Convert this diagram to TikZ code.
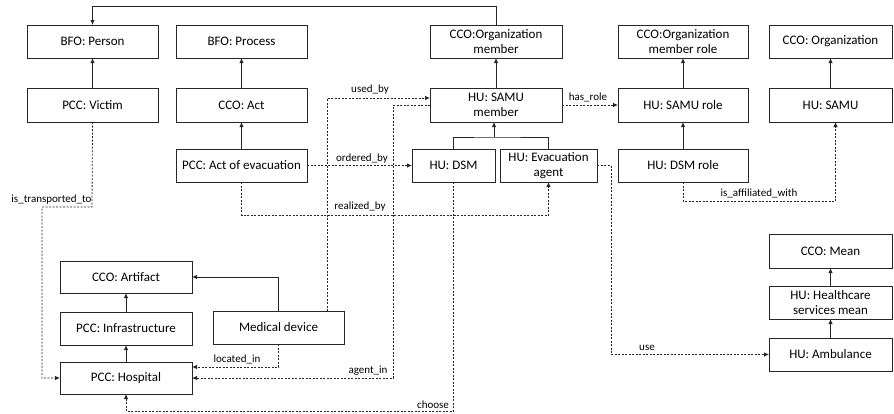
\documentclass[tikz,border=0pt]{standalone}
\usepackage{fontspec}
\setmainfont{Carlito}
\usetikzlibrary{arrows.meta}
\definecolor{ln}{HTML}{262626}
\tikzset{
  box/.style={draw=ln, line width=0.9pt, rectangle, inner sep=1pt, outer sep=0pt, align=center, font=\fontsize{13}{15.5}\selectfont, text=black},
  isa/.style={draw=ln, line width=0.9pt, -{Latex[length=5pt,width=4.5pt]}},
  dep/.style={draw=ln, line width=0.8pt, dash pattern=on 2pt off 1.5pt, -{Latex[length=5pt,width=4.5pt]}},
  lbl/.style={font=\fontsize{11}{12}\selectfont, inner sep=0pt, text=black},
}
\newcommand{\bx}[7]{\node[box, minimum width=#4pt, minimum height=#5pt] (#1) at (#2,#3) {#6};}
\begin{document}
\begin{tikzpicture}[x=1pt,y=-1pt]
\useasboundingbox (0,0) rectangle (894,413);
% row 1
\bx{person}{92.5}{41.5}{131}{33}{BFO: Person}{}
\bx{process}{241.5}{41.5}{131}{33}{BFO: Process}{}
\bx{orgmember}{496}{41.5}{132}{33}{CCO:Organization\\member}{}
\bx{orgmemberrole}{683}{41.5}{130}{33}{CCO:Organization\\member role}{}
\bx{org}{830.5}{41.5}{123}{33}{CCO: Organization}{}
% row 2
\bx{victim}{92.5}{105}{131}{34}{PCC: Victim}{}
\bx{act}{241.5}{105}{131}{34}{CCO: Act}{}
\bx{samumember}{496}{105}{132}{34}{HU: SAMU\\member}{}
\bx{samurole}{683}{105}{130}{34}{HU: SAMU role}{}
\bx{samu}{830.5}{105}{123}{34}{HU: SAMU}{}
% row 3
\bx{actevac}{241.5}{165.5}{131}{33}{PCC: Act of evacuation}{}
\bx{dsm}{453.5}{165.5}{83}{33}{HU: DSM}{}
\bx{evac}{548.5}{165.5}{97}{33}{HU: Evacuation\\agent}{}
\bx{dsmrole}{683}{165.5}{130}{33}{HU: DSM role}{}
% lower left
\bx{artifact}{126}{277}{132}{32}{CCO: Artifact}{}
\bx{infra}{126}{328.5}{132}{33}{PCC: Infrastructure}{}
\bx{hospital}{126}{378}{132}{32}{PCC: Hospital}{}
\bx{meddev}{278.5}{327.5}{131}{33}{Medical device}{}
% lower right
\bx{mean}{830.5}{251}{123}{34}{CCO: Mean}{}
\bx{healthcare}{830.5}{302.5}{123}{33}{HU: Healthcare\\services mean}{}
\bx{ambulance}{830.5}{354.5}{123}{33}{HU: Ambulance}{}

% is-a links
\draw[isa] (victim) -- (person);
\draw[isa] (act) -- (process);
\draw[isa] (actevac) -- (act);
\draw[isa] (samumember) -- (orgmember);
\draw[isa] (samurole) -- (orgmemberrole);
\draw[isa] (dsmrole) -- (samurole);
\draw[isa] (samu) -- (org);
\draw[isa] (healthcare) -- (mean);
\draw[isa] (ambulance) -- (healthcare);
\draw[isa] (infra) -- (artifact);
\draw[isa] (hospital) -- (infra);
\draw[isa] (meddev.north) |- (artifact.east);
\draw[isa] (orgmember.north) -- ++(0,-19) -| (person.north);
\coordinate (junc) at (494,137);
\draw[draw=ln, line width=0.9pt] (dsm.north) |- (junc) -| (evac.north);
\draw[isa] (junc) -- (junc |- samumember.south);

% relations
\coordinate (tA) at (92,207);
\coordinate (tB) at (42,207);
\draw[dep] (victim.south) -- (tA) -- (tB) |- (hospital.west);
\draw[dep] ([xshift=-17pt]meddev.north east) |- ([yshift=7pt]samumember.west);
\coordinate (ag) at (393,378);
\draw[dep] (samumember.west) -| (ag) -- (hospital.east);
\draw[dep] (meddev.south) |- ([yshift=11pt]hospital.east);
\draw[dep] (actevac) -- (dsm);
\coordinate (rz) at (241.5,215);
\draw[dep] (actevac.south) -- (rz) -| (evac.south);
\draw[dep] (samumember) -- (samurole);
\coordinate (af) at (683,201);
\draw[dep] (dsmrole.south) -- (af) -| ([xshift=5pt]samu.south);
\coordinate (us) at (611,165.5);
\draw[dep] (evac.east) -- (us) |- (ambulance.west);
\coordinate (ch) at (453.5,411);
\draw[dep] (dsm.south) -- (ch) -| (hospital.south);

% labels
\node[lbl] (l1) at (51.5,200) {is\_transported\_to};
\node[lbl] (l2) at (370,90) {used\_by};
\node[lbl] (l3) at (362,159) {ordered\_by};
\node[lbl] (l4) at (360,207) {realized\_by};
\node[lbl] (l5) at (237,359) {located\_in};
\node[lbl] (l6) at (368,371) {agent\_in};
\node[lbl] (l7) at (433,405) {choose};
\node[lbl] (l8) at (588,97) {has\_role};
\node[lbl] (l9) at (759,193) {is\_affiliated\_with};
\node[lbl] (l10) at (647,348) {use};
\end{tikzpicture}
\end{document}
